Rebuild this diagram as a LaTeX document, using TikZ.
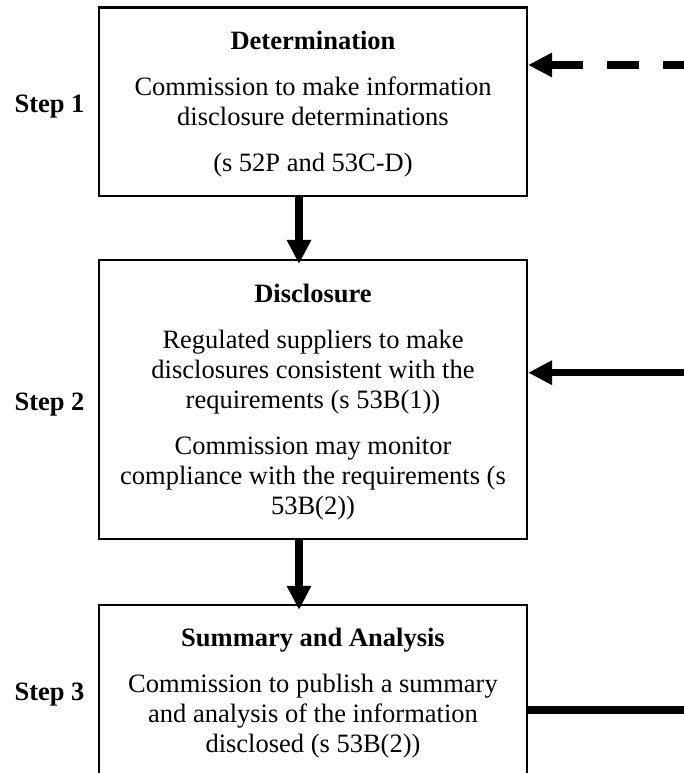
\documentclass[tikz,border=0pt]{standalone}
\usepackage{fontspec}
\setmainfont{Liberation Serif}
\usetikzlibrary{arrows.meta, positioning}
\newcommand{\boxhead}[1]{\rule{0pt}{24pt}\textbf{#1}}

\begin{document}
\begin{tikzpicture}[x=1pt, y=-1pt,
    stepbox/.style={draw, line width=2.2pt, minimum width=428pt, align=center, font=\fontsize{26.5}{30}\selectfont},
    steplabel/.style={anchor=base, font=\fontsize{26.5}{30}\selectfont\bfseries},
    flow/.style={line width=7.5pt, -{Triangle[length=24pt,width=23pt]}}]
                \useasboundingbox (0,0) rectangle (684,773);
                \node[stepbox, minimum height=188.5pt] (determination) at (313,101.75) {\boxhead{Determination}\\[16pt] Commission to make information\\ disclosure determinations\\[16pt] (s 52P and 53C-D)};
                \node[stepbox, minimum height=279pt] (disclosure) at (313,399.5) {\boxhead{Disclosure}\\[16pt] Regulated suppliers to make\\ disclosures consistent with the\\ requirements (s 53B(1))\\[16pt] Commission may monitor\\ compliance with the requirements (s\\ 53B(2))};
                \node[stepbox, minimum height=170pt] (summary) at (313,690) {\boxhead{Summary and Analysis}\\[16pt] Commission to publish a summary\\ and analysis of the information\\ disclosed (s 53B(2))};

                \node[steplabel] (step1) at (49.5,113) {Step 1};
                \node[steplabel] (step2) at (49.5,410) {Step 2};
                \node[steplabel] (step3) at (49.5,700) {Step 3};

                \coordinate (axis) at (299,0);
                \coordinate (in1) at (695,65); \coordinate (in2) at (684,372.7); \coordinate (out3) at (684,710);

                \draw[flow, shorten >=-5pt] (determination.south -| axis) -- (disclosure.north -| axis);
                \draw[flow, shorten >=-6pt] (disclosure.south -| axis) -- (summary.north -| axis);
                \draw[flow, dash pattern=on 32pt off 24pt] (in1) -- (in1 -| determination.east);
                \draw[flow] (in2) -- (in2 -| disclosure.east);
                \draw[line width=7.5pt] (summary.east |- out3) -- (out3);
            \end{tikzpicture}
\end{document}
